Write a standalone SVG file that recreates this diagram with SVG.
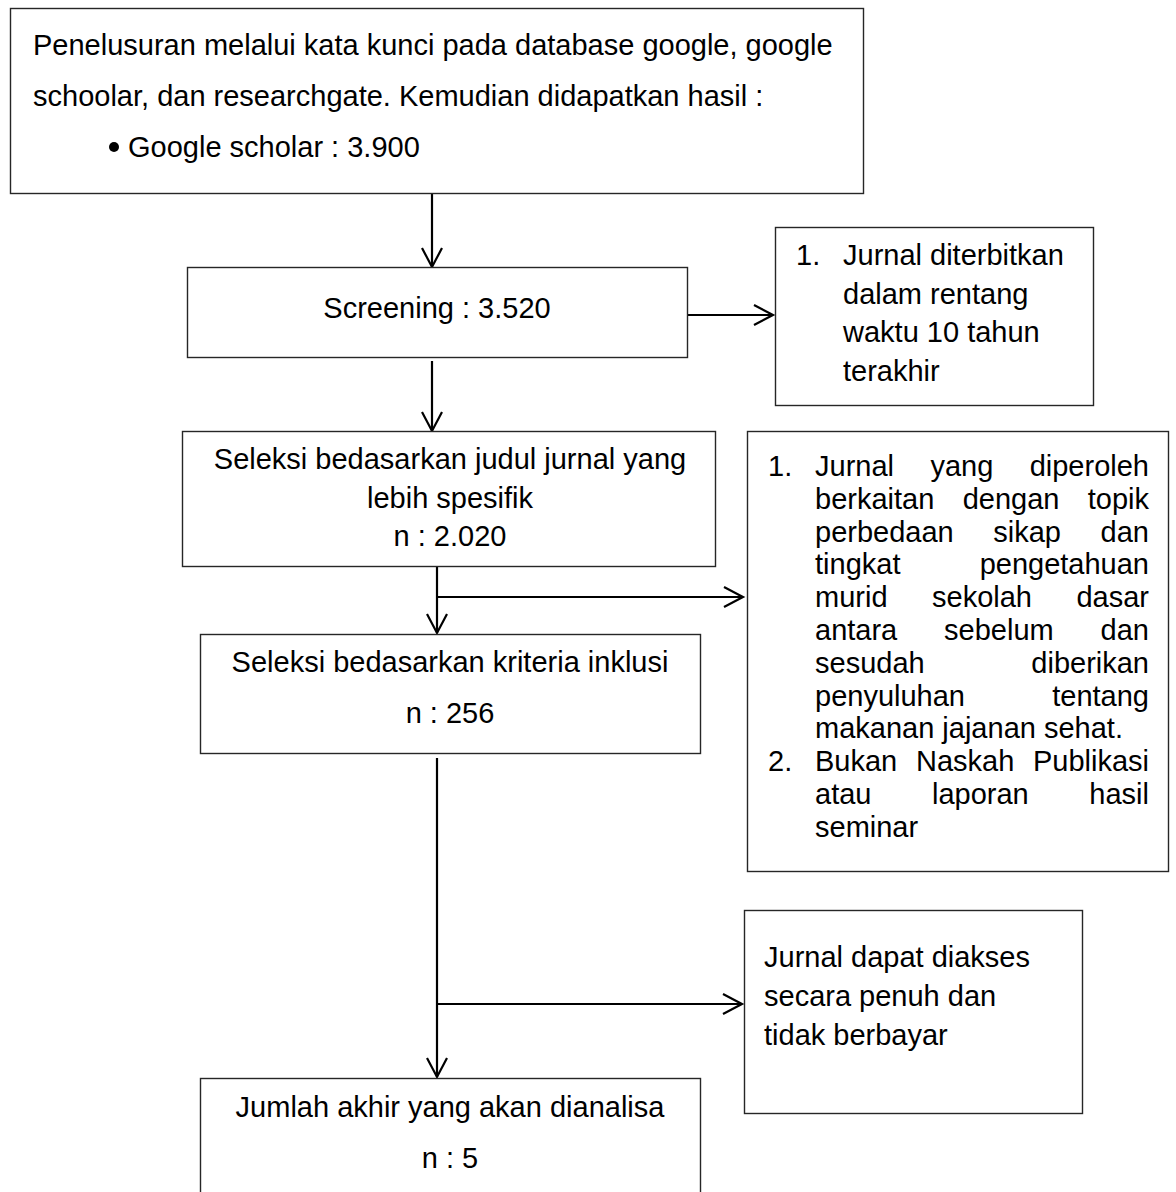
<svg xmlns="http://www.w3.org/2000/svg" width="1176" height="1192" viewBox="0 0 1176 1192">
<style>
  .box { fill: #ffffff; stroke: #262626; stroke-width: 1.4; }
  .t { font-family: "Liberation Sans", Arial, sans-serif; font-size: 29px; fill: #000000; }
  .c { text-anchor: middle; }
  .e { text-anchor: end; }
  .conn { fill: none; stroke: #000000; stroke-width: 2.2; }
</style>
<defs>
  <marker id="arrow" markerUnits="userSpaceOnUse" viewBox="-22 -12 24 24" refX="0" refY="0" markerWidth="24" markerHeight="24" orient="auto" overflow="visible">
    <path d="M-19,-10 L0,0 L-19,10" fill="none" stroke="#000000" stroke-width="2.2"/>
  </marker>
</defs>
<rect width="1176" height="1192" fill="#ffffff"/>

<g id="connectors">
  <line class="conn" x1="432" y1="194" x2="432" y2="267" marker-end="url(#arrow)"/>
  <line class="conn" x1="687" y1="315" x2="773" y2="315" marker-end="url(#arrow)"/>
  <line class="conn" x1="432" y1="361" x2="432" y2="431" marker-end="url(#arrow)"/>
  <line class="conn" x1="437" y1="567" x2="437" y2="633" marker-end="url(#arrow)"/>
  <line class="conn" x1="437" y1="597" x2="743" y2="597" marker-end="url(#arrow)"/>
  <line class="conn" x1="437" y1="758" x2="437" y2="1077" marker-end="url(#arrow)"/>
  <line class="conn" x1="437" y1="1004" x2="742" y2="1004" marker-end="url(#arrow)"/>
</g>

<g id="node-search">
  <rect class="box" x="10.5" y="8.5" width="853" height="185"/>
  <text class="t" x="33" y="55">Penelusuran melalui kata kunci pada database google, google</text>
  <text class="t" x="33" y="106">schoolar, dan researchgate. Kemudian didapatkan hasil :</text>
  <circle cx="114" cy="147" r="5" fill="#000000"/>
  <text class="t" x="128" y="157">Google scholar : 3.900</text>
</g>

<g id="node-screening">
  <rect class="box" x="187.5" y="267.5" width="500" height="90"/>
  <text class="t c" x="437" y="318">Screening : 3.520</text>
</g>

<g id="node-criteria1">
  <rect class="box" x="775.5" y="227.5" width="318" height="178"/>
  <text class="t" x="796" y="265">1.</text>
  <text class="t" x="843" y="265">Jurnal diterbitkan</text>
  <text class="t" x="843" y="303.5">dalam rentang</text>
  <text class="t" x="843" y="342">waktu 10 tahun</text>
  <text class="t" x="843" y="380.5">terakhir</text>
</g>

<g id="node-title-selection">
  <rect class="box" x="182.5" y="431.5" width="533" height="135"/>
  <text class="t c" x="450" y="469">Seleksi bedasarkan judul jurnal yang</text>
  <text class="t c" x="450" y="507.5">lebih spesifik</text>
  <text class="t c" x="450" y="546">n : 2.020</text>
</g>

<g id="node-criteria2">
  <rect class="box" x="747.5" y="431.5" width="421" height="440"/>
  <text class="t" x="768" y="476">1.</text>
  <text class="t" x="815" y="476">Jurnal</text>
  <text class="t" x="930.4" y="476">yang</text>
  <text class="t e" x="1149" y="476">diperoleh</text>
  <text class="t" x="815" y="508.8">berkaitan</text>
  <text class="t" x="962.7" y="508.8">dengan</text>
  <text class="t e" x="1149" y="508.8">topik</text>
  <text class="t" x="815" y="541.6">perbedaan</text>
  <text class="t" x="993.3" y="541.6">sikap</text>
  <text class="t e" x="1149" y="541.6">dan</text>
  <text class="t" x="815" y="574.4">tingkat</text>
  <text class="t e" x="1149" y="574.4">pengetahuan</text>
  <text class="t" x="815" y="607.2">murid</text>
  <text class="t" x="932" y="607.2">sekolah</text>
  <text class="t e" x="1149" y="607.2">dasar</text>
  <text class="t" x="815" y="640">antara</text>
  <text class="t" x="944.1" y="640">sebelum</text>
  <text class="t e" x="1149" y="640">dan</text>
  <text class="t" x="815" y="672.8">sesudah</text>
  <text class="t e" x="1149" y="672.8">diberikan</text>
  <text class="t" x="815" y="705.6">penyuluhan</text>
  <text class="t e" x="1149" y="705.6">tentang</text>
  <text class="t" x="815" y="738.4">makanan jajanan sehat.</text>
  <text class="t" x="768" y="771.2">2.</text>
  <text class="t" x="815" y="771.2">Bukan</text>
  <text class="t" x="916" y="771.2">Naskah</text>
  <text class="t e" x="1149" y="771.2">Publikasi</text>
  <text class="t" x="815" y="804">atau</text>
  <text class="t" x="932" y="804">laporan</text>
  <text class="t e" x="1149" y="804">hasil</text>
  <text class="t" x="815" y="836.8">seminar</text>
</g>

<g id="node-inclusion">
  <rect class="box" x="200.5" y="634.5" width="500" height="119"/>
  <text class="t c" x="450" y="672">Seleksi bedasarkan kriteria inklusi</text>
  <text class="t c" x="450" y="723">n : 256</text>
</g>

<g id="node-access">
  <rect class="box" x="744.5" y="910.5" width="338" height="203"/>
  <text class="t" x="764" y="967">Jurnal dapat diakses</text>
  <text class="t" x="764" y="1006">secara penuh dan</text>
  <text class="t" x="764" y="1044.5">tidak berbayar</text>
</g>

<g id="node-final">
  <rect class="box" x="200.5" y="1078.5" width="500" height="130"/>
  <text class="t c" x="450" y="1117">Jumlah akhir yang akan dianalisa</text>
  <text class="t c" x="450" y="1168">n : 5</text>
</g>
</svg>
